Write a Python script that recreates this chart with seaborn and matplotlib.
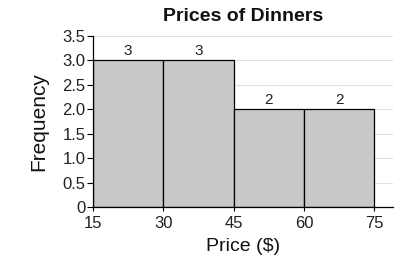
import matplotlib
matplotlib.use("Agg")
import matplotlib.pyplot as plt
import seaborn as sns
import pandas as pd

bin_edges = [15, 30, 45, 60, 75]
bin_starts = [15, 30, 45, 60]
frequencies = [3, 3, 2, 2]
y_ticks = [0, 0.5, 1.0, 1.5, 2.0, 2.5, 3.0, 3.5]
y_tick_labels = ["0", "0.5", "1.0", "1.5", "2.0", "2.5", "3.0", "3.5"]
x_ticks = [15, 30, 45, 60, 75]

sns.set_theme(style="white")
plt.rcParams['font.family'] = ['Liberation Sans', 'DejaVu Sans']

df = pd.DataFrame({"price": bin_starts, "freq": frequencies})

fig = plt.figure(figsize=(4.09, 2.65), dpi=100)
ax = fig.add_axes([0.2274, 0.219, 0.7336, 0.645])

sns.histplot(data=df, x="price", weights="freq", bins=bin_edges, ax=ax,
             color="#c8c8c8", alpha=1, edgecolor="black", linewidth=0.9, zorder=2)

for c in ax.containers:
    ax.bar_label(c, labels=[str(v) for v in frequencies], fontsize=11, padding=2, color="#222222")

ax.set_xlim(15, 79)
ax.set_ylim(0, 3.5)
ax.set_yticks(y_ticks)
ax.set_yticklabels(y_tick_labels)
ax.set_xticks(x_ticks)
ax.yaxis.grid(True, color="#e0e0e0", linewidth=0.8, zorder=0)
ax.set_axisbelow(True)
for s in ["top", "right"]:
    ax.spines[s].set_visible(False)
for s in ["left", "bottom"]:
    ax.spines[s].set_color("black")
    ax.spines[s].set_linewidth(0.9)
ax.tick_params(axis="both", which="both", direction="out", width=0.8,
               color="black", labelsize=12, labelcolor="#222222")
ax.tick_params(axis="y", length=4.5, pad=1)
ax.tick_params(axis="x", length=3, pad=3.5)
ax.tick_params(left=True, bottom=True)
ax.set_xlabel("Price ($)", fontsize=14, color="#111111", labelpad=5)
ax.set_ylabel("Frequency", fontsize=15, color="#111111", labelpad=10)
ax.set_title("Prices of Dinners", fontsize=14, fontweight="bold", color="#111111", pad=11)

fig.savefig("out.png", dpi=100)
